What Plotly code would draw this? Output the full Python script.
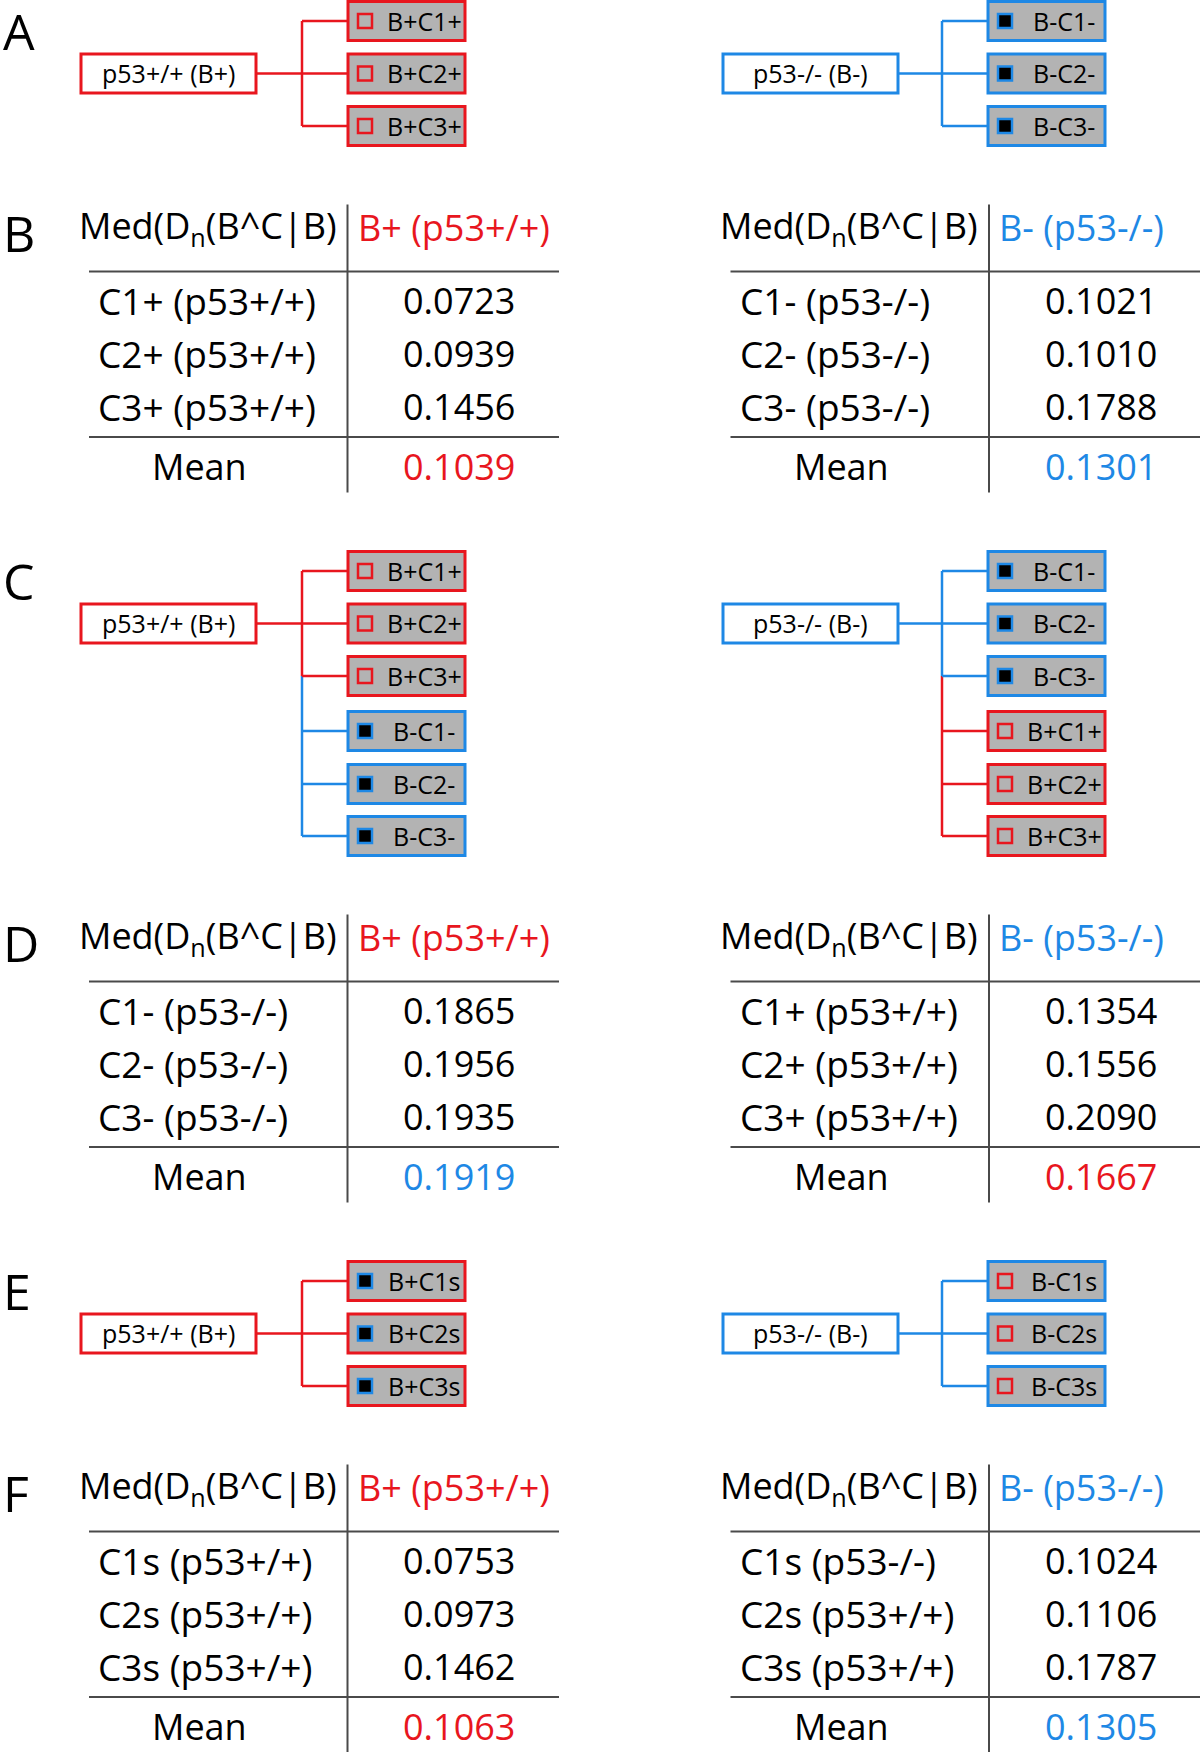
import plotly.graph_objects as go

# ---------------- data ----------------
panel_letters = ["A", "B", "C", "D", "E", "F"]

root_left_label = "p53+/+ (B+)"
root_right_label = "p53-/- (B-)"

A_left_children = ["B+C1+", "B+C2+", "B+C3+"]
A_right_children = ["B-C1-", "B-C2-", "B-C3-"]
C_left_children = ["B+C1+", "B+C2+", "B+C3+", "B-C1-", "B-C2-", "B-C3-"]
C_right_children = ["B-C1-", "B-C2-", "B-C3-", "B+C1+", "B+C2+", "B+C3+"]
E_left_children = ["B+C1s", "B+C2s", "B+C3s"]
E_right_children = ["B-C1s", "B-C2s", "B-C3s"]

table_header = "Med(D<sub>n</sub>(B^C|B)"
header_left = "B+ (p53+/+)"
header_right = "B- (p53-/-)"
mean_label = "Mean"

B_left_rows = ["C1+ (p53+/+)", "C2+ (p53+/+)", "C3+ (p53+/+)"]
B_left_vals = [0.0723, 0.0939, 0.1456]
B_left_mean = 0.1039
B_right_rows = ["C1- (p53-/-)", "C2- (p53-/-)", "C3- (p53-/-)"]
B_right_vals = [0.1021, 0.1010, 0.1788]
B_right_mean = 0.1301

D_left_rows = ["C1- (p53-/-)", "C2- (p53-/-)", "C3- (p53-/-)"]
D_left_vals = [0.1865, 0.1956, 0.1935]
D_left_mean = 0.1919
D_right_rows = ["C1+ (p53+/+)", "C2+ (p53+/+)", "C3+ (p53+/+)"]
D_right_vals = [0.1354, 0.1556, 0.2090]
D_right_mean = 0.1667

F_left_rows = ["C1s (p53+/+)", "C2s (p53+/+)", "C3s (p53+/+)"]
F_left_vals = [0.0753, 0.0973, 0.1462]
F_left_mean = 0.1063
F_right_rows = ["C1s (p53-/-)", "C2s (p53+/+)", "C3s (p53+/+)"]
F_right_vals = [0.1024, 0.1106, 0.1787]
F_right_mean = 0.1305

# ---------------- style ----------------
RED = "#E8161E"
BLUE = "#1E88E5"
GREY = "#B3B3B3"
RULE = "#4A4A4A"
FONT = "Open Sans"
W, H = 1200, 1752

shapes = []
annotations = []
fig = go.Figure()


def text(x, y, s, size, color="black", xanchor="center", yanchor="middle"):
    annotations.append(dict(x=x, y=y, xref="x", yref="y", text=s, showarrow=False,
                            xanchor=xanchor, yanchor=yanchor,
                            font=dict(family=FONT, size=size, color=color)))


def line(x0, y0, x1, y1, color, width=2.5):
    shapes.append(dict(type="line", x0=x0, y0=y0, x1=x1, y1=y1, xref="x", yref="y",
                       line=dict(color=color, width=width), layer="below"))


def rect(x0, y0, x1, y1, color, fill, width=3):
    shapes.append(dict(type="rect", x0=x0, y0=y0, x1=x1, y1=y1, xref="x", yref="y",
                       line=dict(color=color, width=width), fillcolor=fill, layer="below"))


CHILD_OFFSETS = [0, 52.5, 105, 160, 213, 265]
BOX_H = 39
TXT_DY = -0.5


def draw_tree(x_root, x_vert, x_child, y0, root_label, root_color, children, filled_marker=None):
    ys = [y0 + o for o in CHILD_OFFSETS[:len(children)]]
    y_root = ys[1]
    colors = [RED if c.startswith("B+") else BLUE for c in children]
    # connectors
    line(x_root + 175, y_root, x_vert, y_root, root_color)
    for i in range(len(ys) - 1):
        line(x_vert, ys[i], x_vert, ys[i + 1], colors[i + 1])
    for y, c in zip(ys, colors):
        line(x_vert, y, x_child, y, c)
    # root box
    rect(x_root, y_root - BOX_H / 2, x_root + 175, y_root + BOX_H / 2, root_color, "white")
    text(x_root + 87.5, y_root + TXT_DY, root_label, 25)
    # children
    mk_x, mk_y, mk_fill, mk_line = [], [], [], []
    for lab, y, c in zip(children, ys, colors):
        rect(x_child, y - BOX_H / 2, x_child + 117, y + BOX_H / 2, c, GREY)
        text(x_child + 76, y + TXT_DY, lab, 25)
        filled = (not lab.startswith("B+")) if filled_marker is None else filled_marker
        mk_x.append(x_child + 17)
        mk_y.append(y)
        mk_fill.append("black" if filled else GREY)
        mk_line.append(BLUE if filled else RED)
    fig.add_trace(go.Scatter(x=mk_x, y=mk_y, mode="markers", hoverinfo="skip",
                             marker=dict(symbol="square", size=14, color=mk_fill,
                                         line=dict(color=mk_line, width=2.5))))


TFS = 36


def draw_table(x_div, y_top, head_txt, head_color, rows, vals, mean_val, mean_color):
    # y_top = header rule y
    y_head = y_top - 44
    line(x_div, y_top - 67, x_div, y_top + 221, RULE, 2)
    line(x_div - 258.5, y_top, x_div + 211.5, y_top, RULE, 2)
    line(x_div - 258.5, y_top + 165.5, x_div + 211.5, y_top + 165.5, RULE, 2)
    text(x_div - 9, y_head, table_header, TFS, xanchor="right")
    text(x_div + 8, y_head, head_txt, TFS, color=head_color, xanchor="left")
    for r, v, dy in zip(rows, vals, [29, 82, 135]):
        text(x_div - 251.5, y_top + dy, r, 37, xanchor="left")
        text(x_div + 111.5, y_top + dy, f"{v:.4f}", TFS)
    text(x_div - 148, y_top + 195, mean_label, TFS)
    text(x_div + 111.5, y_top + 195, f"{mean_val:.4f}", TFS, color=mean_color)


LX_ROOT, LX_VERT, LX_CHILD = 81, 302, 348
RX_ROOT, RX_VERT, RX_CHILD = 723, 942, 988
LDIV, RDIV = 347.5, 989

# A
draw_tree(LX_ROOT, LX_VERT, LX_CHILD, 21, root_left_label, RED, A_left_children)
draw_tree(RX_ROOT, RX_VERT, RX_CHILD, 21, root_right_label, BLUE, A_right_children)
# B
draw_table(LDIV, 271.5, header_left, RED, B_left_rows, B_left_vals, B_left_mean, RED)
draw_table(RDIV, 271.5, header_right, BLUE, B_right_rows, B_right_vals, B_right_mean, BLUE)
# C
draw_tree(LX_ROOT, LX_VERT, LX_CHILD, 571, root_left_label, RED, C_left_children)
draw_tree(RX_ROOT, RX_VERT, RX_CHILD, 571, root_right_label, BLUE, C_right_children)
# D
draw_table(LDIV, 981.5, header_left, RED, D_left_rows, D_left_vals, D_left_mean, BLUE)
draw_table(RDIV, 981.5, header_right, BLUE, D_right_rows, D_right_vals, D_right_mean, RED)
# E
draw_tree(LX_ROOT, LX_VERT, LX_CHILD, 1281, root_left_label, RED,
          E_left_children, filled_marker=True)
draw_tree(RX_ROOT, RX_VERT, RX_CHILD, 1281, root_right_label, BLUE,
          E_right_children, filled_marker=False)
# F
draw_table(LDIV, 1531.5, header_left, RED, F_left_rows, F_left_vals, F_left_mean, RED)
draw_table(RDIV, 1531.5, header_right, BLUE, F_right_rows, F_right_vals, F_right_mean, BLUE)

# panel letters
for letter, yc in zip(panel_letters, [29, 231, 579, 941, 1289, 1491]):
    text(1, yc + 2, letter, 50, xanchor="left")

fig.update_layout(
    width=W, height=H, margin=dict(l=0, r=0, t=0, b=0),
    paper_bgcolor="white", plot_bgcolor="white", showlegend=False,
    xaxis=dict(range=[0, W], visible=False, fixedrange=True),
    yaxis=dict(range=[H, 0], visible=False, fixedrange=True),
    shapes=shapes, annotations=annotations,
)

fig.write_html("out.html", config={"displayModeBar": False},
               post_script="document.body.style.margin='0';")
